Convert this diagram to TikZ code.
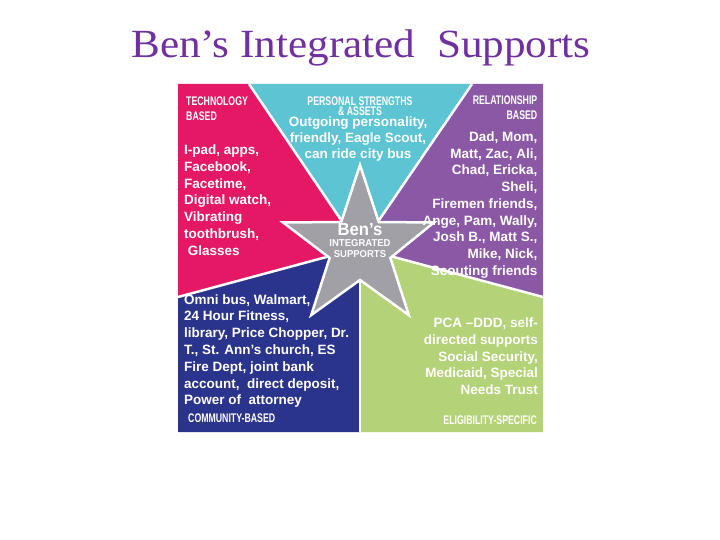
\documentclass[tikz,border=0pt]{standalone}
\usepackage{fontspec}
\setmainfont{Liberation Serif}
\newfontfamily\titlefam[FakeStretch=1.08]{Liberation Serif}
\newfontfamily\bodyfam{Liberation Sans}
\newfontfamily\headfam[FakeStretch=0.7]{Liberation Sans}
\newfontfamily\starfam[FakeStretch=0.95]{Liberation Sans}
\definecolor{pinkC}{RGB}{228,24,100}
\definecolor{cyanC}{RGB}{92,196,210}
\definecolor{purpleC}{RGB}{139,88,166}
\definecolor{greenC}{RGB}{180,210,120}
\definecolor{navyC}{RGB}{42,52,140}
\definecolor{starC}{RGB}{160,160,166}
\definecolor{titleC}{RGB}{112,48,160}
\tikzset{
  sep/.style={white,line width=2.5pt},
  body/.style={text=white,inner sep=0pt,font=\bodyfam\bfseries\fontsize{13.5}{16.8}\selectfont},
  head/.style={text=white,inner sep=0pt,font=\headfam\bfseries\fontsize{12.5}{14.5}\selectfont},
}
\begin{document}
\begin{tikzpicture}[x=1pt,y=-1pt]
\useasboundingbox (0,0) rectangle (720,540);
\fill[white] (0,0) rectangle (720,540);
\coordinate (C) at (360,248);
\coordinate (TL) at (178,84);
\coordinate (TR) at (543,84);
\coordinate (BR) at (543,432);
\coordinate (BL) at (178,432);
\coordinate (p1) at (249,84);
\coordinate (p2) at (472,84);
\coordinate (p3) at (543,297);
\coordinate (p4) at (360,432);
\coordinate (p5) at (178,297);
\fill[pinkC] (TL) -- (p1) -- (C) -- (p5) -- cycle;
\fill[cyanC] (p1) -- (p2) -- (C) -- cycle;
\fill[purpleC] (p2) -- (TR) -- (p3) -- (C) -- cycle;
\fill[greenC] (p3) -- (BR) -- (p4) -- (C) -- cycle;
\fill[navyC] (p4) -- (BL) -- (p5) -- (C) -- cycle;
\draw[sep] (p1) -- (C);
\draw[sep] (p2) -- (C);
\draw[sep] (p3) -- (C);
\draw[sep] (p4) -- (C);
\draw[sep] (p5) -- (C);
% star
\filldraw[fill=starC,draw=white,line width=2.5pt,line join=miter]
  (360,165) -- (378.8,222.1) -- (434,222.4) -- (390.4,257.9) -- (408.8,315.1)
  -- (360,280) -- (311.2,315.1) -- (329.6,257.9) -- (283,222.4) -- (341.2,222.1) -- cycle;
% title
\node[anchor=base,inner sep=0pt,text=titleC,font=\titlefam\fontsize{40}{40}\selectfont] (title) at (361,58) {Ben’s Integrated\ \ Supports};
% headings (base anchor = baseline of the last line)
\node[head,anchor=base west,align=left] (hTech) at (186,120.5) {TECHNOLOGY\\BASED};
\node[head,anchor=base,align=center] (hPers) at (360,115.5) {PERSONAL STRENGTHS\\[-4.5pt]\& ASSETS};
\node[head,anchor=base east,align=right] (hRel) at (537.5,119.5) {RELATIONSHIP\\BASED};
\node[head,anchor=base west] (hCom) at (188,422.5) {COMMUNITY-BASED};
\node[head,anchor=base east] (hElig) at (537,424.5) {ELIGIBILITY-SPECIFIC};
% bodies
\node[body,anchor=base west,align=left] (tTech) at (184,255.3)
  {I-pad, apps,\\Facebook,\\Facetime,\\Digital watch,\\Vibrating\\toothbrush,\\\ Glasses};
\node[body,anchor=base,align=center,font=\bodyfam\bfseries\fontsize{13.5}{16.2}\selectfont] (tPers) at (358,158.9)
  {Outgoing personality,\\friendly, Eagle Scout,\\can ride city bus};
\node[body,anchor=base east,align=right,font=\bodyfam\bfseries\fontsize{13.5}{16.7}\selectfont] (tRel) at (537.5,275.1)
  {Dad, Mom,\\Matt, Zac, Ali,\\Chad, Ericka,\\Sheli,\\Firemen friends,\\Ange, Pam, Wally,\\Josh B., Matt S.,\\Mike, Nick,\\Scouting friends};
\node[body,anchor=base west,align=left] (tCom) at (184,404.8)
  {Omni bus, Walmart,\\24 Hour Fitness,\\library, Price Chopper, Dr.\\T., St. Ann’s church, ES\\Fire Dept, joint bank\\account,\ \ direct deposit,\\Power of\ \ attorney};
\node[body,anchor=base east,align=right,font=\bodyfam\bfseries\fontsize{13.5}{16.75}\selectfont] (tElig) at (538,394.5)
  {PCA –DDD, self-\\directed supports\\Social Security,\\Medicaid, Special\\Needs Trust};
% star text
\node[anchor=base,inner sep=0pt,text=white,font=\starfam\bfseries\fontsize{17.5}{17.5}\selectfont] (sBen) at (360,235.5) {Ben’s};
\node[anchor=base,inner sep=0pt,text=white,font=\starfam\bfseries\fontsize{10}{10}\selectfont] (sInt) at (360,246) {INTEGRATED};
\node[anchor=base,inner sep=0pt,text=white,font=\starfam\bfseries\fontsize{10}{10}\selectfont] (sSup) at (360,258) {SUPPORTS};
\end{tikzpicture}
\end{document}
